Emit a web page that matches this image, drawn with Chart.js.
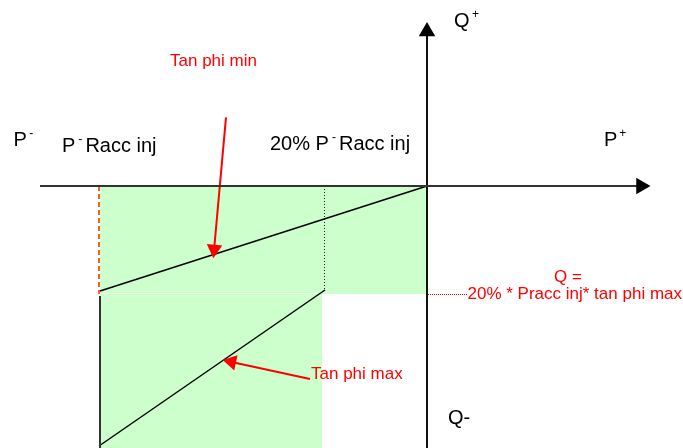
<!DOCTYPE html>
<html><head><meta charset="utf-8">
<script src="https://cdn.jsdelivr.net/npm/chart.js@4/dist/chart.umd.min.js"></script>
<style>html,body{margin:0;padding:0;background:#fff;overflow:hidden}#wrap{width:683px;height:448px}</style>
</head><body><div id="wrap"><canvas id="c" width="683" height="448"></canvas></div>
<script>
// P / Q diagram, data coordinates with origin at the axis crossing
const pRange = [-427, 256];
const qRange = [-262, 186];

const pAxis = [-387, 213];          // P axis line (arrow at right end)
const qAxis = [-262, 154];          // Q axis line (arrow at top end)
const axisHeadsP = [214, 0];
const axisHeadsQ = [0, 154.5];

const pRaccInj = -327;              // P- Racc inj
const p20Area = -105;               // right edge of lower zone
const p20 = -103;                   // 20% P- Racc inj (dotted)
const qLimit = -108;                // Q = 20% * Pracc inj * tan phi max
const qBottom = -262;

const tanMinP = [-327, 0];
const tanMinQ = [-105, 0];
const tanMaxP = [-328, -102];
const tanMaxQ = [-260, -104];

const arrowMinP = [-201, -212.9];
const arrowMinQ = [68.7, -63.3];
const arrowMaxP = [-117, -195.5];
const arrowMaxQ = [-193, -175.9];
const arrowRot = [185.15, 282.3];

const labelTexts = ['P', 'P', '20% P', 'Q', 'P', 'Q-', 'Tan phi min', 'Q =', '20% * Pracc inj* tan phi max', 'Tan phi max'];
const labelP = [-413.5, -365, -157, 27, 177, 21, -257, 127, 40.5, -116];
const labelQ = [40, 34, 36.5, 159, 40, -238, 120, -96, -113, -193];

const pts = (xs, ys) => xs.map((v, i) => ({x: v, y: ys[i]}));
const line = (data, color, width, dash, extra) => Object.assign({
  data, borderColor: color, borderWidth: width, borderDash: dash || [],
  pointRadius: 0, pointHoverRadius: 0, fill: false, tension: 0, order: 0,
  borderCapStyle: 'butt'
}, extra || {});

const greenArea = [
  {x: pRaccInj, y: qBottom}, {x: p20Area, y: qBottom},
  {x: p20Area, y: qLimit}, {x: 0, y: qLimit}
];

const datasets = [
  line(greenArea, 'rgba(0,0,0,0)', 0, null, {fill: {value: 0}, backgroundColor: '#CCFFCC', order: 100}),
  line(pts([pRaccInj, p20Area], [qLimit + 0.5, qLimit + 0.5]), 'rgba(255,255,255,0.7)', 1, null, {order: 90}),
  line(pts(pAxis, [0, 0]), '#333333', 2),
  line(pts([0, 0], qAxis), '#111111', 2),
  line(pts([pRaccInj - 1, pRaccInj - 1], [0, qLimit]), '#FF5A1F', 2, [5, 3]),
  line(pts([pRaccInj, pRaccInj], [qLimit - 2, qBottom]), '#333333', 2),
  line(pts([p20 + 0.5, p20 + 0.5], [0, tanMaxQ[1]]), '#222222', 1, [1, 2]),
  line(pts([1, 41], [qLimit - 0.5, qLimit - 0.5]), '#FF0000', 1, [1, 1]),
  line(pts(tanMinP, tanMinQ), '#000000', 1.5),
  line(pts(tanMaxP, tanMaxQ), '#000000', 1.5),
  line(pts(arrowMinP, arrowMinQ), '#FF0000', 2),
  line(pts(arrowMaxP, arrowMaxQ), '#FF0000', 2),
  {data: pts(axisHeadsP, axisHeadsQ), showLine: false, pointStyle: 'triangle', pointRadius: 9.5,
   pointHoverRadius: 9.5, pointRotation: [90, 0], pointBackgroundColor: '#000', pointBorderWidth: 0, order: -1},
  {data: [{x: arrowMinP[1], y: arrowMinQ[1]}, {x: arrowMaxP[1], y: arrowMaxQ[1]}], showLine: false,
   pointStyle: 'triangle', pointRadius: 9, pointHoverRadius: 9, pointRotation: arrowRot,
   pointBackgroundColor: '#FF0000', pointBorderWidth: 0, order: -1}
];

// rich text parts per label
const labelParts = [
  [{t: 'P'}, {t: '-', sup: true, dx: 2.5}],
  [{t: 'P'}, {t: '-', sup: true, dx: 3}, {t: ' Racc inj', dx: -2.5}],
  [{t: '20% P'}, {t: '-', sup: true, dx: 3}, {t: ' Racc inj', dx: -2.5}],
  [{t: 'Q'}, {t: '+', sup: true, dx: 2.5}],
  [{t: 'P'}, {t: '+', sup: true, dx: 2}],
  [{t: 'Q-'}],
  [{t: 'Tan phi min'}],
  [{t: 'Q ='}],
  [{t: '20% * Pracc inj* tan phi max'}],
  [{t: 'Tan phi max'}]
];
const labelColor = ['#000', '#000', '#000', '#000', '#000', '#000', '#FF0000', '#FF0000', '#FF0000', '#FF0000'];
const labelSize = [20, 20, 20, 20, 20, 20, 17, 17, 17, 17];
const FONT = '"Liberation Sans", Arial, Helvetica, sans-serif';

const textPlugin = {
  id: 'texts',
  afterDatasetsDraw(chart) {
    const {ctx} = chart;
    const xs = chart.scales.x, ys = chart.scales.y;
    ctx.save();
    ctx.textAlign = 'left';
    ctx.textBaseline = 'alphabetic';
    labelTexts.forEach((txt, i) => {
      let px = xs.getPixelForValue(labelP[i]);
      const py = ys.getPixelForValue(labelQ[i]);
      ctx.fillStyle = labelColor[i];
      labelParts[i].forEach(part => {
        const size = part.sup ? 12 : labelSize[i];
        ctx.font = size + 'px ' + FONT;
        px += part.dx || 0;
        ctx.fillText(part.t, px, py - (part.sup ? 9 : 0));
        px += ctx.measureText(part.t).width;
      });
    });
    ctx.restore();
  }
};

new Chart(document.getElementById('c'), {
  type: 'line',
  data: {datasets},
  options: {
    responsive: false,
    animation: false,
    events: [],
    layout: {padding: 0, autoPadding: false},
    plugins: {legend: {display: false}, tooltip: {enabled: false}, title: {display: false}},
    scales: {
      x: {type: 'linear', min: pRange[0], max: pRange[1], display: false},
      y: {type: 'linear', min: qRange[0], max: qRange[1], display: false}
    }
  },
  plugins: [textPlugin]
});
</script>
</body></html>
